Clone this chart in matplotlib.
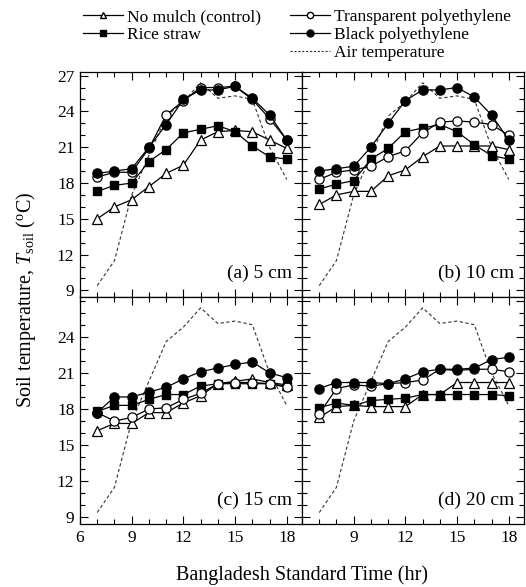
import matplotlib
matplotlib.use("Agg")
import matplotlib.pyplot as plt
from matplotlib.lines import Line2D
from matplotlib.ticker import MultipleLocator, FixedLocator

plt.rcParams['font.family'] = ['Liberation Serif', 'DejaVu Serif']
plt.rcParams['mathtext.fontset'] = 'custom'
plt.rcParams['mathtext.rm'] = 'Liberation Serif'
plt.rcParams['mathtext.it'] = 'Liberation Serif:italic'

hours = [7, 8, 9, 10, 11, 12, 13, 14, 15, 16, 17, 18]
air_temp = [9.4, 11.5, 17.0, 20.3, 23.6, 24.8, 26.4, 25.1, 25.3, 25.0, 21.0, 18.3]

# panel (a) 5 cm
a_nomulch = [15.0, 16.0, 16.6, 17.7, 18.8, 19.5, 21.6, 22.3, 22.4, 22.3, 21.6, 20.9]
a_rice = [17.3, 17.8, 18.0, 19.8, 20.8, 22.2, 22.5, 22.8, 22.3, 21.1, 20.2, 20.0]
a_transp = [18.5, 18.9, 18.9, 20.9, 23.7, 24.9, 26.0, 26.0, 26.1, 25.0, 23.4, 21.6]
a_black = [18.8, 19.0, 19.2, 21.0, 22.9, 25.0, 25.8, 25.8, 26.1, 25.1, 23.7, 21.6]

# panel (b) 10 cm
b_nomulch = [16.2, 17.0, 17.3, 17.3, 18.6, 19.1, 20.2, 21.1, 21.1, 21.1, 21.1, 20.8]
b_rice = [17.5, 17.9, 18.2, 20.0, 20.9, 22.3, 22.6, 22.9, 22.3, 21.2, 20.3, 20.0]
b_transp = [18.3, 18.9, 19.1, 19.4, 20.2, 20.7, 22.2, 23.1, 23.2, 23.1, 22.9, 22.0]
b_black = [19.0, 19.2, 19.4, 21.0, 23.0, 24.9, 25.8, 25.8, 26.0, 25.2, 23.7, 21.6]

# panel (c) 15 cm
c_nomulch = [16.2, 16.8, 16.8, 17.7, 17.7, 18.5, 19.1, 20.1, 20.3, 20.5, 20.2, 20.0]
c_rice = [17.8, 18.3, 18.3, 18.8, 19.2, 19.2, 19.9, 20.1, 20.1, 20.1, 20.1, 19.9]
c_transp = [17.7, 17.0, 17.3, 18.0, 18.1, 18.8, 19.3, 20.1, 20.2, 20.2, 20.1, 19.8]
c_black = [17.7, 19.0, 19.0, 19.4, 19.8, 20.5, 21.1, 21.4, 21.7, 21.9, 21.0, 20.6]

# panel (d) 20 cm
d_nomulch = [17.3, 18.2, 18.3, 18.2, 18.2, 18.2, 19.2, 19.2, 20.2, 20.2, 20.2, 20.2]
d_rice = [18.1, 18.5, 18.3, 18.7, 18.8, 18.9, 19.2, 19.2, 19.2, 19.2, 19.2, 19.1]
d_transp = [17.6, 19.7, 20.0, 19.9, 20.1, 20.2, 20.4, 21.3, 21.2, 21.3, 21.3, 21.1]
d_black = [19.7, 20.2, 20.2, 20.2, 20.1, 20.5, 21.1, 21.3, 21.3, 21.4, 22.1, 22.3]

panel_labels = ['(a) 5 cm', '(b) 10 cm', '(c) 15 cm', '(d) 20 cm']
series_labels = ['No mulch (control)', 'Rice straw', 'Transparent polyethylene',
                 'Black polyethylene', 'Air temperature']

panels = [
    (a_nomulch, a_rice, a_transp, a_black),
    (b_nomulch, b_rice, b_transp, b_black),
    (c_nomulch, c_rice, c_transp, c_black),
    (d_nomulch, d_rice, d_transp, d_black),
]

W, H = 526, 587
fig = plt.figure(figsize=(W / 100, H / 100), dpi=100)

xl, xm, xr = 80, 302, 524
yt, ym, yb = 72, 297, 524
boxes = [
    (xl, yt, xm, ym), (xm, yt, xr, ym),
    (xl, ym, xm, yb), (xm, ym, xr, yb),
]

ms = 6.3
lw = 0.9
for i, (box, data) in enumerate(zip(boxes, panels)):
    x0, y0, x1, y1 = box
    ax = fig.add_axes([x0 / W, 1 - y1 / H, (x1 - x0) / W, (y1 - y0) / H])
    nm, rs, tp, bp = data
    ax.plot(hours, air_temp, color='#333333', lw=0.8, ls=(0, (3, 2.2)), zorder=1)
    ax.plot(hours, nm, color='black', lw=lw, marker='^', ms=ms + 0.6, mfc='white', mec='black', mew=0.9, zorder=2)
    ax.plot(hours, rs, color='black', lw=lw, marker='s', ms=ms, mfc='black', mec='black', zorder=3)
    ax.plot(hours, tp, color='black', lw=lw, marker='o', ms=ms + 0.3, mfc='white', mec='black', mew=0.9, zorder=4)
    ax.plot(hours, bp, color='black', lw=lw, marker='o', ms=ms + 0.3, mfc='black', mec='black', zorder=5)

    ax.set_xlim(6, 6 + (x1 - x0) / 17.23)
    ax.set_ylim(8.45, 27.3)
    ax.xaxis.set_major_locator(FixedLocator([6, 9, 12, 15, 18]))
    ax.xaxis.set_minor_locator(MultipleLocator(1))
    if i == 2:
        ax.yaxis.set_major_locator(FixedLocator([9, 12, 15, 18, 21, 24]))
    else:
        ax.yaxis.set_major_locator(FixedLocator([9, 12, 15, 18, 21, 24, 27]))
    ax.yaxis.set_minor_locator(MultipleLocator(1))
    ax.tick_params(which='both', direction='in', top=True, right=True, labelsize=12.5, pad=4)
    ax.tick_params(which='major', length=6, width=0.8)
    ax.tick_params(which='minor', length=3.5, width=0.8)
    for s in ax.spines.values():
        s.set_linewidth(0.9)
    if i in (0, 1):
        ax.tick_params(labelbottom=False)
    if i in (1, 3):
        ax.tick_params(labelleft=False)
    if i == 3:
        ax.set_xticks([9, 12, 15, 18])
    ax.text(0.955, 0.065, panel_labels[i], transform=ax.transAxes, ha='right', va='bottom', fontsize=14)

fig.text(xm / W, 1 - 575 / H, 'Bangladesh Standard Time (hr)', ha='center', va='center', fontsize=14.5)
fig.text(26 / W, 1 - 300 / H, r'Soil temperature, $T_{\mathrm{soil}}$ ($^{\mathrm{o}}$C)',
         ha='center', va='center', rotation=90, fontsize=14.5)

h_nm = Line2D([], [], color='black', lw=lw, marker='^', ms=5, mfc='white', mec='black')
h_rs = Line2D([], [], color='black', lw=lw, marker='s', ms=5, mfc='black', mec='black')
h_tp = Line2D([], [], color='black', lw=lw, marker='o', ms=4.5, mfc='white', mec='black')
h_bp = Line2D([], [], color='black', lw=lw, marker='o', ms=5, mfc='black', mec='black')
h_air = Line2D([], [], color='#333333', lw=0.8, ls=(0, (2, 1.5)))
h_blank = Line2D([], [], color='none', lw=0)

fig.legend([h_nm, h_rs, h_blank, h_tp, h_bp, h_air],
           [series_labels[0], series_labels[1], '', series_labels[2], series_labels[3], series_labels[4]],
           ncol=2, loc='upper left', bbox_to_anchor=(76 / W, 1 - 2 / H), frameon=False,
           fontsize=12.5, handlelength=2.3, handletextpad=0.25, columnspacing=1.65,
           labelspacing=0.1, borderaxespad=0)

fig.savefig('out.png', dpi=100)
